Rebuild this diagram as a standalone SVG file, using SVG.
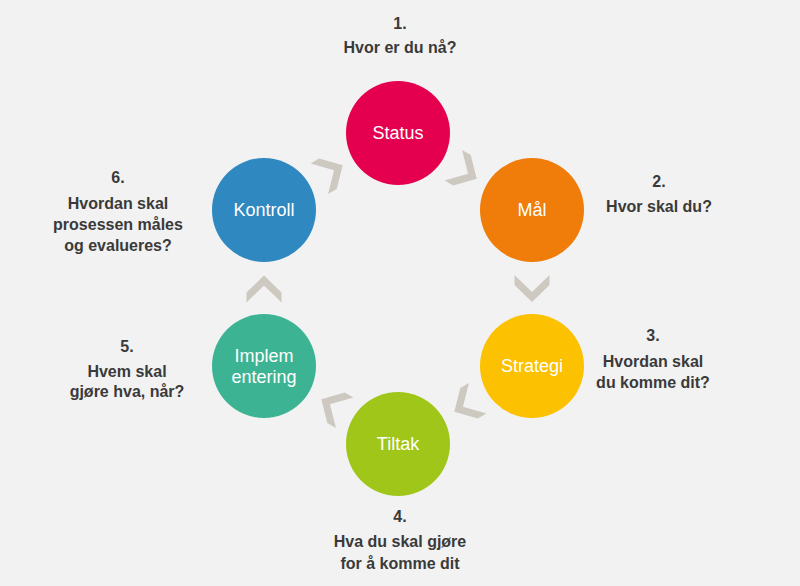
<svg xmlns="http://www.w3.org/2000/svg" width="800" height="586" viewBox="0 0 800 586">
<defs>
<style>
.bg{fill:#f2f2f2}
.chev{fill:#cdc9c1}
.lbl{font-family:"Liberation Sans",Arial,sans-serif;font-size:18px;fill:#ffffff;text-anchor:middle}
.q{font-family:"Liberation Sans",Arial,sans-serif;font-size:16px;font-weight:bold;fill:#3a3a3a;text-anchor:middle}
</style>
<path id="chv" d="M-17.5,-13.5 L0,3.5 L17.5,-13.5 L17.5,-3.5 L0,13.5 L-17.5,-3.5 Z"/>
</defs>
<rect class="bg" x="0" y="0" width="800" height="586"/>
<g id="connectors">
<use href="#chv" class="chev" transform="translate(465,172) rotate(-60)"/>
<use href="#chv" class="chev" transform="translate(532,288.5)"/>
<use href="#chv" class="chev" transform="translate(466,405) rotate(60)"/>
<use href="#chv" class="chev" transform="translate(333,406) rotate(120)"/>
<use href="#chv" class="chev" transform="translate(264,289) rotate(180)"/>
<use href="#chv" class="chev" transform="translate(331,172) rotate(240)"/>
</g>
<g id="status">
<circle cx="398" cy="133" r="52" fill="#e5004f"/>
<text class="lbl" x="398" y="139">Status</text>
</g>
<g id="maal">
<circle cx="532" cy="210" r="52" fill="#f07c0a"/>
<text class="lbl" x="532" y="216">Mål</text>
</g>
<g id="strategi">
<circle cx="532" cy="366" r="52" fill="#fcc100"/>
<text class="lbl" x="532" y="372">Strategi</text>
</g>
<g id="tiltak">
<circle cx="398" cy="444" r="52" fill="#a0c61a"/>
<text class="lbl" x="398" y="450">Tiltak</text>
</g>
<g id="implementering">
<circle cx="264" cy="366" r="52" fill="#3cb493"/>
<text class="lbl" x="264" y="362">Implem</text>
<text class="lbl" x="264" y="383">entering</text>
</g>
<g id="kontroll">
<circle cx="264" cy="210" r="52" fill="#2f88c0"/>
<text class="lbl" x="264" y="216">Kontroll</text>
</g>
<g id="q1">
<text class="q" x="400" y="29">1.</text>
<text class="q" x="400" y="53">Hvor er du nå?</text>
</g>
<g id="q2">
<text class="q" x="659" y="187">2.</text>
<text class="q" x="659" y="212">Hvor skal du?</text>
</g>
<g id="q3">
<text class="q" x="653" y="341">3.</text>
<text class="q" x="653" y="367">Hvordan skal</text>
<text class="q" x="653" y="388">du komme dit?</text>
</g>
<g id="q4">
<text class="q" x="400" y="522">4.</text>
<text class="q" x="400" y="547">Hva du skal gjøre</text>
<text class="q" x="400" y="569">for å komme dit</text>
</g>
<g id="q5">
<text class="q" x="127" y="352">5.</text>
<text class="q" x="127" y="377">Hvem skal</text>
<text class="q" x="127" y="397">gjøre hva, når?</text>
</g>
<g id="q6">
<text class="q" x="118" y="183">6.</text>
<text class="q" x="118" y="209">Hvordan skal</text>
<text class="q" x="118" y="230">prosessen måles</text>
<text class="q" x="118" y="251">og evalueres?</text>
</g>
</svg>
